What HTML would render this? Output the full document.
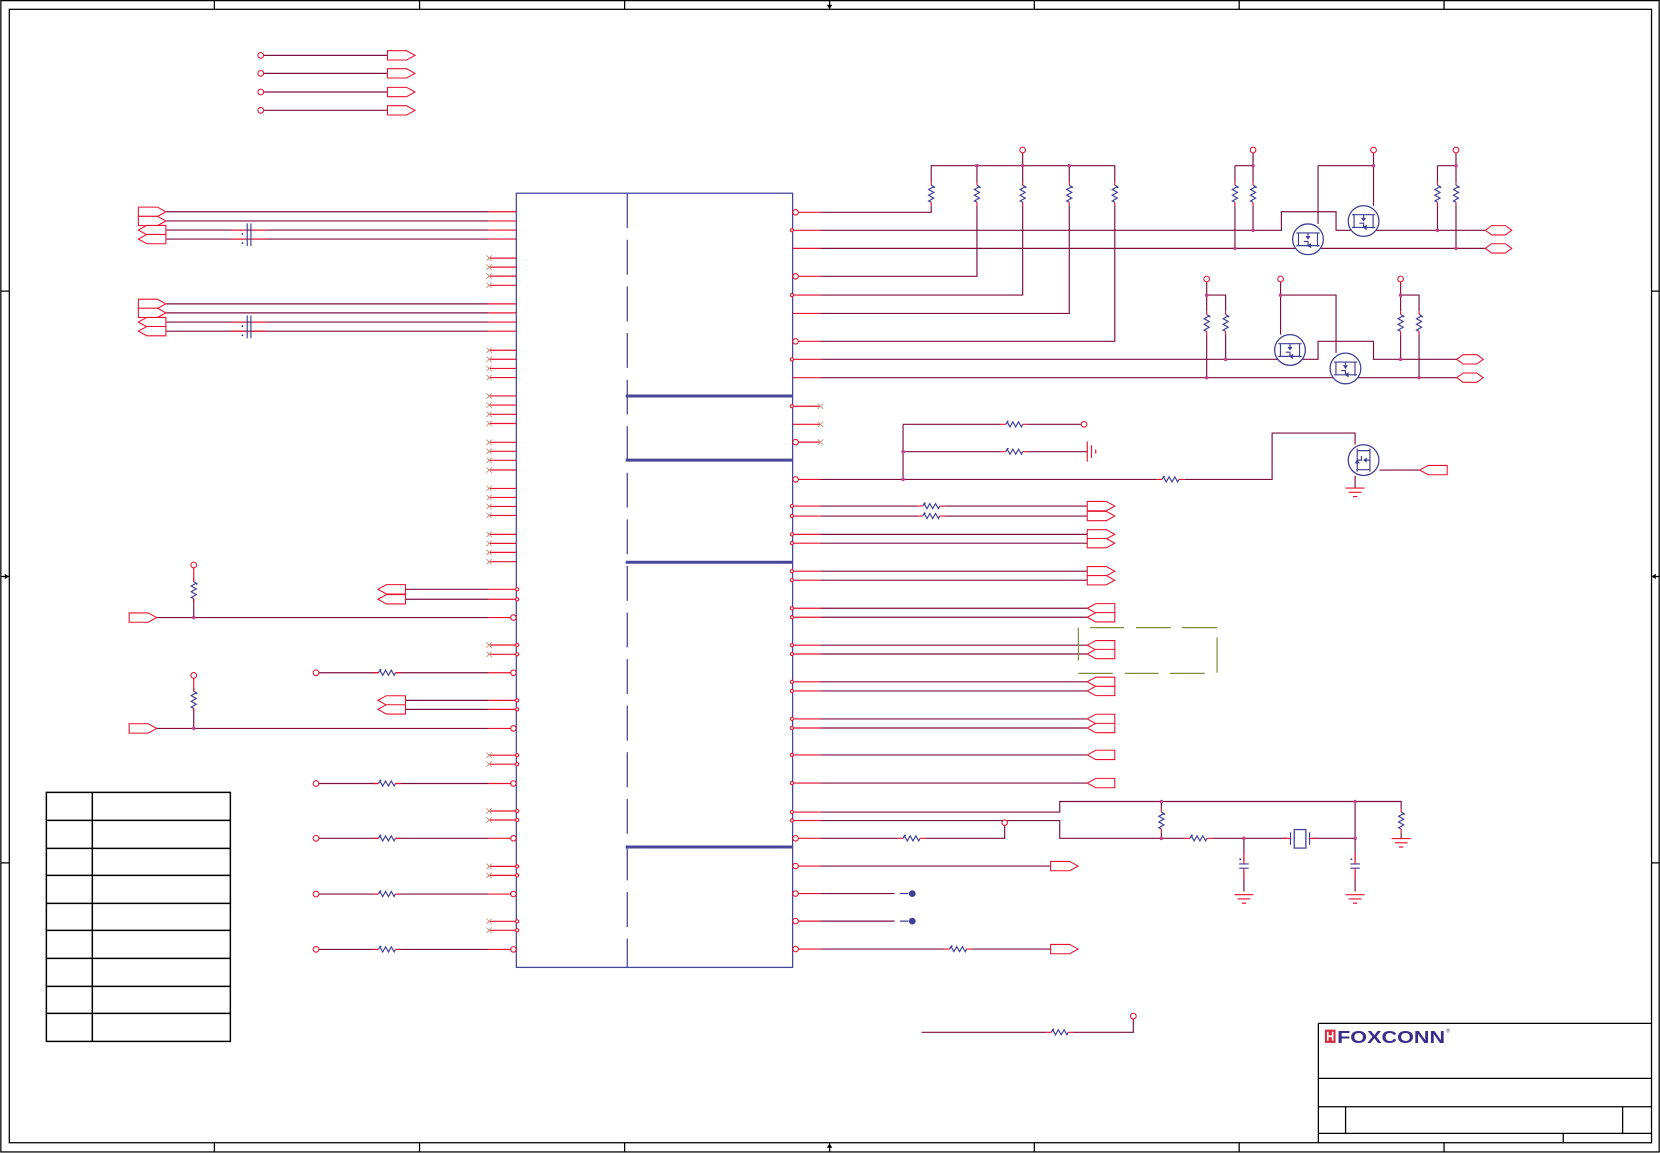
<!DOCTYPE html>
<html><head><meta charset="utf-8"><style>
html,body{margin:0;padding:0;background:#fff;}
svg{display:block}
.w{stroke:#7d0f3e;stroke-width:1.1;fill:none}
.r{stroke:#e8112d;stroke-width:1.1;fill:none}
.b{stroke:#3f3f95;stroke-width:1.1;fill:none}
.f{stroke:#000;stroke-width:1.2;fill:none}
.t{stroke:#000;stroke-width:1.4;fill:none}
.p{stroke:#e8112d;stroke-width:1;fill:#fff}
.x{stroke:#c8a08a;stroke-width:0.9;fill:none}
.c{stroke:#e8112d;stroke-width:1;fill:#fff}
.j{fill:#c2468c}
.o{stroke:#7d8c3a;stroke-width:1.1;fill:none}
</style></head><body>
<svg width="1660" height="1153" viewBox="0 0 1568 1089" preserveAspectRatio="none" xmlns="http://www.w3.org/2000/svg" xmlns:xlink="http://www.w3.org/1999/xlink">
<defs>
<g id="rv"><path class="b" d="M0,-8 l2.4,1.3 l-4.8,2.7 l4.8,2.7 l-4.8,2.7 l4.8,2.7 l-4.8,2.7 l2.4,1.2"/><circle cx="2.8" cy="-6" r="0.8" fill="#3f3f95"/><path class="r" d="M0,-11V-8 M0,8V11"/></g>
<g id="rh"><path class="b" d="M-8,0 l1.3,-2.4 l2.7,4.8 l2.7,-4.8 l2.7,4.8 l2.7,-4.8 l2.7,4.8 l1.2,-2.4"/><circle cx="-6" cy="-2.8" r="0.8" fill="#3f3f95"/><path class="r" d="M-13,0H-8 M8,0H13"/></g>
<path id="po" class="p" d="M0,-4.4 h18 l8,4.4 l-8,4.4 h-18 z"/>
<path id="pi" class="p" d="M0,0 l8,-4.4 h18 v8.8 h-18 z"/>
<path id="pb" class="p" d="M0,0 l6,-4.4 h13 l6,4.4 l-6,4.4 h-13 z"/>
<path id="nc" class="x" d="M-2.6,-2.6 l5.2,5.2 M-2.6,2.6 l5.2,-5.2"/>
<path id="gnd" class="r" d="M-9,0 h18 M-6,4 h12 M-2,8 h4"/>
<g id="mos"><circle r="14.5" fill="#fff" stroke="#3f3f95" stroke-width="1.2"/>
<path class="b" stroke-width="1.4" d="M-11,-6 H11 M-9,-6 v4 M9,-6 v13 M0,-6 v3 M-11,6 H11 M-9,-2 v8 M-4,2 h4 v4"/>
<path fill="#3f3f95" d="M-2.5,-3 h5 l-2.5,3.5 z M-1,6 l4,-2.5 v5 z"/></g>
</defs>

<!-- frame -->
<rect x="0.8" y="0.6" width="1566.4" height="1087.4" class="f"/>
<rect x="8.8" y="8.8" width="1551.2" height="1070.5" class="f"/>
<path class="f" d="M202.5,0.6V8.8 M396.3,0.6V8.8 M590,0.6V8.8 M977,0.6V8.8 M1170.5,0.6V8.8 M1364,0.6V8.8
M202.5,1079.3V1088 M396.3,1079.3V1088 M590,1079.3V1088 M977,1079.3V1088 M1170.5,1079.3V1088 M1364,1079.3V1088
M0.8,275H8.8 M0.8,815H8.8 M1560,275H1567.2 M1560,815H1567.2
M783.6,0.6V8.8 M783.6,1079.3V1088 M0.8,544.5H8.8 M1560,544.5H1567.2"/>
<path fill="#000" d="M781,4.5 h5.2 l-2.6,4 z M781,1084 h5.2 l-2.6,-4 z M4.5,542 v5 l4,-2.5 z M1564,542 v5 l-4,-2.5 z"/>

<!-- top-left signals -->
<path class="w" d="M249,52.3H366 M249,69.3H366 M249,86.9H366 M249,104.2H366"/>
<circle class="c" cx="246.3" cy="52.3" r="2.7"/><circle class="c" cx="246.3" cy="69.3" r="2.7"/><circle class="c" cx="246.3" cy="86.9" r="2.7"/><circle class="c" cx="246.3" cy="104.2" r="2.7"/>
<use xlink:href="#po" x="366" y="52.3"/><use xlink:href="#po" x="366" y="69.3"/><use xlink:href="#po" x="366" y="86.9"/><use xlink:href="#po" x="366" y="104.2"/>

<!-- chip -->
<rect x="487.7" y="182.5" width="261" height="731.2" fill="none" stroke="#46469a" stroke-width="1.2"/>
<path d="M592.5,182.5V913.7" stroke="#46469a" stroke-width="1.2" stroke-dasharray="33 11"/>
<path d="M591,374H749 M591,434.6H749 M591,531H749 M591,800H749" stroke="#46469a" stroke-width="2.8"/>

<!-- left wires -->
<path class="w" d="M157,200H461 M157,208.7H461 M157,217.3H461 M157,225.8H461 M157,287H461 M157,295.5H461 M157,304.2H461 M157,312.8H461
M383,556.6H461 M383,566H461 M148,583.3H461 M383,661.5H461 M383,670H461 M148,688H461
M301,635.4H357.5 M373.5,635.4H461 M301,740H357.5 M373.5,740H461 M301,791.8H357.5 M373.5,791.8H461 M301,844.4H357.5 M373.5,844.4H461 M301,896.7H357.5 M373.5,896.7H461
M183,565.5V583.3 M183,669V688"/>
<path class="r" d="M183,536.3V549.5 M183,640.6V653 M218,217.3H233.5 M237,217.3H252 M218,225.8H233.5 M237,225.8H252 M218,304.2H233.5 M237,304.2H252 M218,312.8H233.5 M237,312.8H252"/>
<use xlink:href="#rv" x="183" y="557.5"/><use xlink:href="#rv" x="183" y="661"/>
<use xlink:href="#rh" x="365.5" y="635.4"/><use xlink:href="#rh" x="365.5" y="740"/><use xlink:href="#rh" x="365.5" y="791.8"/><use xlink:href="#rh" x="365.5" y="844.4"/><use xlink:href="#rh" x="365.5" y="896.7"/>
<circle class="c" cx="183" cy="533.6" r="2.7"/><circle class="c" cx="183" cy="637.9" r="2.7"/>
<circle class="j" cx="183" cy="583.3" r="1.7"/><circle class="j" cx="183" cy="688" r="1.7"/>
<circle class="c" cx="298.5" cy="635.4" r="2.7"/><circle class="c" cx="298.5" cy="740" r="2.7"/><circle class="c" cx="298.5" cy="791.8" r="2.7"/><circle class="c" cx="298.5" cy="844.4" r="2.7"/><circle class="c" cx="298.5" cy="896.7" r="2.7"/>
<path class="b" stroke-width="1.2" d="M233.5,211V232.5 M237,211V232.5 M233.5,298V319.5 M237,298V319.5"/>
<g fill="#3f3f95"><circle cx="229" cy="221" r="0.9"/><circle cx="229" cy="229.6" r="0.9"/><circle cx="229" cy="308" r="0.9"/><circle cx="229" cy="316.6" r="0.9"/></g>
<use xlink:href="#po" x="130.7" y="200"/><use xlink:href="#po" x="130.7" y="208.7"/><use xlink:href="#pi" x="130.7" y="217.3"/><use xlink:href="#pi" x="130.7" y="225.8"/>
<use xlink:href="#po" x="130.7" y="287"/><use xlink:href="#po" x="130.7" y="295.5"/><use xlink:href="#pi" x="130.7" y="304.2"/><use xlink:href="#pi" x="130.7" y="312.8"/>
<use xlink:href="#pi" x="357" y="556.6"/><use xlink:href="#pi" x="357" y="566"/><use xlink:href="#pi" x="357" y="661.5"/><use xlink:href="#pi" x="357" y="670"/>
<use xlink:href="#po" x="122" y="583.3"/><use xlink:href="#po" x="122" y="688"/>

<!-- left pin stubs -->
<path class="r" d="M461,200H487.7 M461,208.7H487.7 M461,217.3H487.7 M461,225.8H487.7 M461,243.8H487.7 M461,252.3H487.7 M461,260.8H487.7 M461,269.5H487.7
M461,287H487.7 M461,295.5H487.7 M461,304.2H487.7 M461,312.8H487.7 M461,330.8H487.7 M461,339.3H487.7 M461,348H487.7 M461,356.6H487.7
M461,374H487.7 M461,382.6H487.7 M461,391.3H487.7 M461,400H487.7 M461,417.8H487.7 M461,426.3H487.7 M461,434.8H487.7 M461,443.9H487.7
M461,461.3H487.7 M461,469.8H487.7 M461,478.3H487.7 M461,486.8H487.7 M461,504.7H487.7 M461,513.2H487.7 M461,521.7H487.7 M461,530.5H487.7
M461,556.6H487.7 M461,566H487.7 M461,583.3H482.3 M461,609.2H487.7 M461,618H487.7 M461,635.4H482.3 M461,661.5H487.7 M461,670H487.7 M461,688H482.3
M461,713.3H487.7 M461,721.8H487.7 M461,740H482.3 M461,766H487.7 M461,774.5H487.7 M461,791.8H482.3 M461,818.3H487.7 M461,826.8H487.7 M461,844.4H482.3
M461,870.2H487.7 M461,878.7H487.7 M461,896.7H482.3"/>
<g>
<circle class="c" cx="485" cy="583.3" r="2.6"/><circle class="c" cx="485" cy="635.4" r="2.6"/><circle class="c" cx="485" cy="688" r="2.6"/><circle class="c" cx="485" cy="740" r="2.6"/><circle class="c" cx="485" cy="791.8" r="2.6"/><circle class="c" cx="485" cy="844.4" r="2.6"/><circle class="c" cx="485" cy="896.7" r="2.6"/>
</g>
<g>
<circle class="c" cx="488.5" cy="556.6" r="1.5"/><circle class="c" cx="488.5" cy="566" r="1.5"/><circle class="c" cx="488.5" cy="609.2" r="1.5"/><circle class="c" cx="488.5" cy="618" r="1.5"/><circle class="c" cx="488.5" cy="661.5" r="1.5"/><circle class="c" cx="488.5" cy="670" r="1.5"/>
<circle class="c" cx="488.5" cy="713.3" r="1.5"/><circle class="c" cx="488.5" cy="721.8" r="1.5"/><circle class="c" cx="488.5" cy="766" r="1.5"/><circle class="c" cx="488.5" cy="774.5" r="1.5"/><circle class="c" cx="488.5" cy="818.3" r="1.5"/><circle class="c" cx="488.5" cy="826.8" r="1.5"/><circle class="c" cx="488.5" cy="870.2" r="1.5"/><circle class="c" cx="488.5" cy="878.7" r="1.5"/>
</g>
<g>
<use xlink:href="#nc" x="462" y="243.8"/><use xlink:href="#nc" x="462" y="252.3"/><use xlink:href="#nc" x="462" y="260.8"/><use xlink:href="#nc" x="462" y="269.5"/>
<use xlink:href="#nc" x="462" y="330.8"/><use xlink:href="#nc" x="462" y="339.3"/><use xlink:href="#nc" x="462" y="348"/><use xlink:href="#nc" x="462" y="356.6"/>
<use xlink:href="#nc" x="462" y="374"/><use xlink:href="#nc" x="462" y="382.6"/><use xlink:href="#nc" x="462" y="391.3"/><use xlink:href="#nc" x="462" y="400"/>
<use xlink:href="#nc" x="462" y="417.8"/><use xlink:href="#nc" x="462" y="426.3"/><use xlink:href="#nc" x="462" y="434.8"/><use xlink:href="#nc" x="462" y="443.9"/>
<use xlink:href="#nc" x="462" y="461.3"/><use xlink:href="#nc" x="462" y="469.8"/><use xlink:href="#nc" x="462" y="478.3"/><use xlink:href="#nc" x="462" y="486.8"/>
<use xlink:href="#nc" x="462" y="504.7"/><use xlink:href="#nc" x="462" y="513.2"/><use xlink:href="#nc" x="462" y="521.7"/><use xlink:href="#nc" x="462" y="530.5"/>
<use xlink:href="#nc" x="462" y="609.2"/><use xlink:href="#nc" x="462" y="618"/><use xlink:href="#nc" x="462" y="713.3"/><use xlink:href="#nc" x="462" y="721.8"/>
<use xlink:href="#nc" x="462" y="766"/><use xlink:href="#nc" x="462" y="774.5"/><use xlink:href="#nc" x="462" y="818.3"/><use xlink:href="#nc" x="462" y="826.8"/>
<use xlink:href="#nc" x="462" y="870.2"/><use xlink:href="#nc" x="462" y="878.7"/>
</g>

<!-- right pin stubs -->
<path class="r" d="M754,200.5H775 M748.7,217.5H775 M748.7,234.6H775 M754,261H775 M748.7,278.7H775 M748.7,296H775 M754,322.4H775 M748.7,339.4H775 M748.7,356.7H775
M748.7,383.7H775 M748.7,400.8H775 M754,417.6H775 M754,452.8H775
M748.7,478H775 M748.7,487.4H775 M748.7,504.7H775 M748.7,513H775 M748.7,539.5H775 M748.7,548H775 M748.7,574.5H775 M748.7,583H775
M748.7,609.4H775 M748.7,617.7H775 M748.7,644H775 M748.7,652.6H775 M748.7,679H775 M748.7,687.6H775 M748.7,713H775 M748.7,739.6H775
M748.7,767H775 M748.7,775H775 M754,791.8H775 M754,818H775 M754,844H775 M754,870H775 M754,896.4H775"/>
<g>
<circle class="c" cx="751.5" cy="200.5" r="2.6"/><circle class="c" cx="751.5" cy="261" r="2.6"/><circle class="c" cx="751.5" cy="322.4" r="2.6"/><circle class="c" cx="751.5" cy="417.6" r="2.6"/><circle class="c" cx="751.5" cy="452.8" r="2.6"/>
<circle class="c" cx="751.5" cy="791.8" r="2.6"/><circle class="c" cx="751.5" cy="818" r="2.6"/><circle class="c" cx="751.5" cy="844" r="2.6"/><circle class="c" cx="751.5" cy="870" r="2.6"/><circle class="c" cx="751.5" cy="896.4" r="2.6"/>
</g>
<g>
<circle class="c" cx="748" cy="217.5" r="1.5"/><circle class="c" cx="748" cy="278.7" r="1.5"/><circle class="c" cx="748" cy="339.4" r="1.5"/><circle class="c" cx="748" cy="383.7" r="1.5"/>
<circle class="c" cx="748" cy="478" r="1.5"/><circle class="c" cx="748" cy="487.4" r="1.5"/><circle class="c" cx="748" cy="504.7" r="1.5"/><circle class="c" cx="748" cy="513" r="1.5"/><circle class="c" cx="748" cy="539.5" r="1.5"/><circle class="c" cx="748" cy="548" r="1.5"/>
<circle class="c" cx="748" cy="574.5" r="1.5"/><circle class="c" cx="748" cy="583" r="1.5"/><circle class="c" cx="748" cy="609.4" r="1.5"/><circle class="c" cx="748" cy="617.7" r="1.5"/><circle class="c" cx="748" cy="644" r="1.5"/><circle class="c" cx="748" cy="652.6" r="1.5"/>
<circle class="c" cx="748" cy="679" r="1.5"/><circle class="c" cx="748" cy="687.6" r="1.5"/><circle class="c" cx="748" cy="713" r="1.5"/><circle class="c" cx="748" cy="739.6" r="1.5"/><circle class="c" cx="748" cy="767" r="1.5"/><circle class="c" cx="748" cy="775" r="1.5"/>
</g>
<use xlink:href="#nc" x="775" y="383.7"/><use xlink:href="#nc" x="775" y="400.8"/><use xlink:href="#nc" x="775" y="417.6"/>

<!-- right top network -->
<path class="w" d="M775,200.5H879.6V194 M879.6,172V156.5H1053V172
M775,217.5H1210.4V200H1262V217.5H1403
M775,234.6H1403
M775,261H922.8V194 M922.8,172V156.5
M775,278.7H966V194 M966,172V156.5
M775,296H1010V194 M1010,172V156.5
M775,322.4H1053V194
M966,144.4V156.5
M1183.6,144.4V172 M1166.5,156.5H1183.6 M1166.5,156.5V172 M1166.5,194V234.6 M1183.6,194V217.5
M1297.4,144.4V194.3 M1245,156.5H1297.4 M1245,156.5V211.5
M1375.3,144.4V172 M1357.8,156.5H1375.3 M1357.8,156.5V172 M1357.8,194V217.5 M1375.3,194V234.6"/>
<use xlink:href="#rv" x="879.6" y="183"/><use xlink:href="#rv" x="922.8" y="183"/><use xlink:href="#rv" x="966" y="183"/><use xlink:href="#rv" x="1010" y="183"/><use xlink:href="#rv" x="1053" y="183"/>
<use xlink:href="#rv" x="1166.5" y="183"/><use xlink:href="#rv" x="1183.6" y="183"/><use xlink:href="#rv" x="1357.8" y="183"/><use xlink:href="#rv" x="1375.3" y="183"/>
<use xlink:href="#mos" x="1235.5" y="226"/><use xlink:href="#mos" x="1288" y="208.8"/>
<circle class="c" cx="966" cy="141.7" r="2.7"/><circle class="c" cx="1183.6" cy="141.7" r="2.7"/><circle class="c" cx="1297.4" cy="141.7" r="2.7"/><circle class="c" cx="1375.3" cy="141.7" r="2.7"/>
<g class="j"><circle cx="922.8" cy="156.5" r="1.7"/><circle cx="966" cy="156.5" r="1.7"/><circle cx="1010" cy="156.5" r="1.7"/><circle cx="1183.6" cy="156.5" r="1.7"/><circle cx="1183.6" cy="217.5" r="1.7"/><circle cx="1166.5" cy="234.6" r="1.7"/><circle cx="1297.4" cy="156.5" r="1.7"/><circle cx="1375.3" cy="156.5" r="1.7"/><circle cx="1357.8" cy="217.5" r="1.7"/><circle cx="1375.3" cy="234.6" r="1.7"/></g>
<use xlink:href="#pb" x="1403" y="217.5"/><use xlink:href="#pb" x="1403" y="234.6"/>

<!-- group 2 -->
<path class="w" d="M775,339.4H1245V322.4H1297.4V339.4H1376
M775,356.7H1376
M1139.8,266.2V294 M1139.8,278.7H1157.7V294 M1139.8,316V356.7 M1157.7,316V339.4
M1209.6,266.2V316 M1209.6,278.7H1262V333.5
M1323,266.2V294 M1323,278.7H1340.4V294 M1323,316V339.4 M1340.4,316V356.7"/>
<use xlink:href="#rv" x="1139.8" y="305"/><use xlink:href="#rv" x="1157.7" y="305"/><use xlink:href="#rv" x="1323" y="305"/><use xlink:href="#rv" x="1340.4" y="305"/>
<use xlink:href="#mos" x="1218.5" y="330.6"/><use xlink:href="#mos" x="1270.9" y="348"/>
<circle class="c" cx="1139.8" cy="263.5" r="2.7"/><circle class="c" cx="1209.6" cy="263.5" r="2.7"/><circle class="c" cx="1323" cy="263.5" r="2.7"/>
<g class="j"><circle cx="1139.8" cy="278.7" r="1.7"/><circle cx="1139.8" cy="356.7" r="1.7"/><circle cx="1157.7" cy="339.4" r="1.7"/><circle cx="1209.6" cy="278.7" r="1.7"/><circle cx="1323" cy="278.7" r="1.7"/><circle cx="1323" cy="339.4" r="1.7"/><circle cx="1340.4" cy="356.7" r="1.7"/></g>
<use xlink:href="#pb" x="1376" y="339.4"/><use xlink:href="#pb" x="1376" y="356.7"/>

<!-- resistor / mosfet 5 net -->
<path class="w" d="M853,400.8H945 M971,400.8H1021.3 M853,426.6H945 M971,426.6H1027 M853,400.8V452.8
M775,452.8H1092.6 M1118.6,452.8H1201.6V409H1280V419.8 M1280,449.4V461 M1303,444H1341"/>
<use xlink:href="#rh" x="958" y="400.8"/><use xlink:href="#rh" x="958" y="426.6"/><use xlink:href="#rh" x="1105.6" y="452.8"/>
<circle class="c" cx="1024" cy="400.8" r="2.7"/>
<path class="r" d="M1027,417V436 M1031,420.5V432.5 M1035,424.5V428.5"/>
<g class="j"><circle cx="853" cy="426.6" r="1.7"/><circle cx="853" cy="452.8" r="1.7"/></g>
<g transform="translate(1288,434.6) rotate(90)"><use xlink:href="#mos"/></g>
<use xlink:href="#gnd" x="1280" y="461"/>
<use xlink:href="#pi" x="1341" y="444"/>

<!-- right port group -->
<path class="w" d="M775,478H866.6 M892.6,478H1027 M775,487.4H866.6 M892.6,487.4H1027
M775,504.7H1027 M775,513H1027 M775,539.5H1027 M775,548H1027 M775,574.5H1027 M775,583H1027
M775,609.4H1027 M775,617.7H1027 M775,644H1027 M775,652.6H1027 M775,679H1027 M775,687.6H1027 M775,713H1027 M775,739.6H1027"/>
<use xlink:href="#rh" x="879.6" y="478"/><use xlink:href="#rh" x="879.6" y="487.4"/>
<use xlink:href="#po" x="1027" y="478"/><use xlink:href="#po" x="1027" y="487.4"/><use xlink:href="#po" x="1027" y="504.7"/><use xlink:href="#po" x="1027" y="513"/><use xlink:href="#po" x="1027" y="539.5"/><use xlink:href="#po" x="1027" y="548"/>
<use xlink:href="#pi" x="1027" y="574.5"/><use xlink:href="#pi" x="1027" y="583"/><use xlink:href="#pi" x="1027" y="609.4"/><use xlink:href="#pi" x="1027" y="617.7"/><use xlink:href="#pi" x="1027" y="644"/><use xlink:href="#pi" x="1027" y="652.6"/>
<use xlink:href="#pi" x="1027" y="679"/><use xlink:href="#pi" x="1027" y="687.6"/><use xlink:href="#pi" x="1027" y="713"/><use xlink:href="#pi" x="1027" y="739.6"/>
<path class="o" d="M1018.6,592.8V624 M1029.6,592.8H1061.7 M1073,592.8H1106 M1116.5,592.8H1149.6 M1149.6,602V635.4 M1018.6,636H1051 M1062.4,636H1094.4 M1105,636H1138"/>

<!-- lower right -->
<path class="w" d="M775,767H1001V757H1323.5V764 M1323.5,786V791.8
M775,775H1001V791.8H1119 M1145,791.8H1216 M1240,791.8H1280V757
M1097,757V764 M1097,786V791.8
M775,791.8H848 M874,791.8H949V779.6
M1175,791.8V813 M1175,823V842 M1280,791.8V813 M1280,823V842
M775,818H992.4 M775,844H845 M775,870H845
M775,896.4H892 M918,896.4H992.4
M870.5,975H988 M1014,975H1070.5V962.4"/>
<use xlink:href="#rv" x="1323.5" y="775"/><use xlink:href="#rv" x="1097" y="775"/>
<use xlink:href="#rh" x="1132" y="791.8"/><use xlink:href="#rh" x="861" y="791.8"/><use xlink:href="#rh" x="905" y="896.4"/><use xlink:href="#rh" x="1001" y="975"/>
<use xlink:href="#gnd" x="1323.5" y="792"/>
<circle class="c" cx="949" cy="777" r="2.6"/>
<circle class="c" cx="1070.5" cy="959.7" r="2.7"/>
<path class="b" stroke-width="1.2" d="M1219,786V798 M1237,786V798 M1170.5,816H1179.5 M1170.5,820H1179.5 M1275.5,816H1284.5 M1275.5,820H1284.5"/>
<rect x="1222.5" y="783.5" width="11" height="17.5" fill="none" stroke="#3f3f95" stroke-width="1.2"/>
<path class="r" d="M1212,791.8H1219 M1237,791.8H1244 M1175,806V816 M1175,820V830 M1280,806V816 M1280,820V830"/>
<g fill="#3f3f95"><circle cx="1171.5" cy="811.5" r="0.9"/><circle cx="1276.5" cy="811.5" r="0.9"/></g>
<use xlink:href="#gnd" x="1175" y="845"/><use xlink:href="#gnd" x="1280" y="845"/>
<g class="j"><circle cx="1097" cy="757" r="1.7"/><circle cx="1280" cy="757" r="1.7"/><circle cx="1097" cy="791.8" r="1.7"/><circle cx="1175" cy="791.8" r="1.7"/><circle cx="1280" cy="791.8" r="1.7"/></g>
<path stroke="#3f3f95" stroke-width="1.1" d="M850,844H858 M850,870H858"/>
<circle cx="861.7" cy="844" r="3.2" fill="#3f3f95"/><circle cx="861.7" cy="870" r="3.2" fill="#3f3f95"/>
<use xlink:href="#po" x="992.4" y="818"/><use xlink:href="#po" x="992.4" y="896.4"/>

<!-- table -->
<rect x="43.8" y="748.4" width="173.8" height="235.2" class="t"/>
<path class="t" d="M87.2,748.4V983.6 M43.8,774.8H217.6 M43.8,801.3H217.6 M43.8,826.8H217.6 M43.8,853.2H217.6 M43.8,878.7H217.6 M43.8,905.2H217.6 M43.8,931.6H217.6 M43.8,957.1H217.6"/>

<!-- title block -->
<path class="f" d="M1245.3,966.6H1560 M1245.3,966.6V1079.3 M1245.3,1018.5H1560 M1245.3,1045.3H1560 M1245.3,1070.5H1560 M1271,1045.3V1070.5 M1532.7,1045.3V1070.5 M1476.6,1070.5V1079.3"/>
<rect x="1251.5" y="972.5" width="10" height="12.5" fill="#d42a3a"/>
<path stroke="#fff" stroke-width="1.6" d="M1254.2,974.5V983 M1258.8,974.5V983 M1254.2,978.7H1258.8"/>
<text x="1263" y="985.3" font-family="Liberation Sans, sans-serif" font-weight="bold" font-size="17" fill="#3b2c8a" textLength="102" lengthAdjust="spacingAndGlyphs">FOXCONN</text>
<text x="1366" y="975" font-family="Liberation Sans, sans-serif" font-size="5" fill="#3b2c8a">®</text>
</svg>
</body></html>
